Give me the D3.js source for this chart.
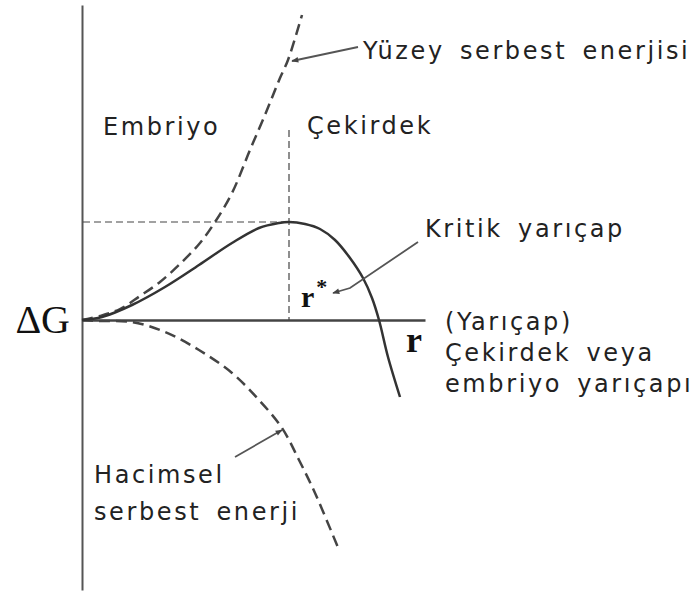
<!DOCTYPE html>
<html>
<head>
<meta charset="utf-8">
<script src="https://cdn.jsdelivr.net/npm/d3@7"></script>
<style>
  html, body { margin: 0; padding: 0; background: #fff; }
  svg { display: block; }
  .lbl { font-family: "DejaVu Sans", Verdana, sans-serif; font-size: 24px; fill: #222; letter-spacing: 2.6px; word-spacing: 5px; }
  .serif { font-family: "Liberation Serif", "Times New Roman", serif; fill: #111; }
</style>
</head>
<body>
<svg id="chart" width="697" height="592"></svg>
<script>
// Nucleation free energy vs. embryo / nucleus radius (arbitrary units)
// Total free energy change ΔG
const totalR = [0, 20, 50, 83, 117, 150, 177, 197, 207, 223, 238, 253, 268, 281, 290, 297, 306, 318];
const totalG = [0, 3, 15, 33, 55, 77, 92, 97, 98, 96, 91, 80, 62, 42, 22, 0, -37, -77];

// Surface free energy contribution (positive, ~r²)
const surfR = [0, 18, 38, 58, 78, 100, 118, 133, 150, 168, 185, 198, 206, 220];
const surfG = [0, 4, 11, 24, 38, 58, 77, 98, 127, 170, 210, 242, 260, 305];

// Volume free energy contribution (negative, ~r³)
const volR = [0, 18, 50, 83, 117, 150, 177, 200, 217, 233, 257];
const volG = [0, -1, -2, -12, -30, -53, -80, -108, -140, -173, -230];

// Critical radius r* and the barrier height at it
const rStar = 207;
const gStar = 98;
const guideTop = 190;

const xDomain = [0, 343];
const yDomain = [-270, 315];

const svg = d3.select("#chart");
const x = d3.scaleLinear().domain(xDomain).range([82, 425]);
const y = d3.scaleLinear().domain(yDomain).range([590, 5]);

const line = d3.line()
  .x(d => x(d[0]))
  .y(d => y(d[1]))
  .curve(d3.curveCatmullRom.alpha(0.5));

const zip = (a, b) => a.map((v, i) => [v, b[i]]);

// Arrowhead marker
svg.append("defs").append("marker")
  .attr("id", "head")
  .attr("viewBox", "0 0 10 10")
  .attr("refX", 9).attr("refY", 5)
  .attr("markerWidth", 9).attr("markerHeight", 7)
  .attr("markerUnits", "userSpaceOnUse")
  .attr("orient", "auto")
  .append("path")
  .attr("d", "M0,1 L10,5 L0,9 Z")
  .attr("fill", "#444");

// Axes: bare lines, no ticks
const yAxis = svg.append("g")
  .attr("transform", `translate(${x(0)},0)`)
  .call(d3.axisLeft(y).tickValues([]).tickSizeOuter(0));
yAxis.select(".domain").attr("stroke", "#555").attr("stroke-width", 2);

const xAxis = svg.append("g")
  .attr("transform", `translate(0,${y(0)})`)
  .call(d3.axisBottom(x).tickValues([]).tickSizeOuter(0));
xAxis.select(".domain").attr("stroke", "#444").attr("stroke-width", 2.5);

// Guide lines through the maximum
svg.append("line")
  .attr("x1", x(1)).attr("x2", x(rStar))
  .attr("y1", y(gStar)).attr("y2", y(gStar))
  .attr("stroke", "#444").attr("stroke-width", 1.2)
  .attr("stroke-dasharray", "7,4");
svg.append("line")
  .attr("x1", x(rStar)).attr("x2", x(rStar))
  .attr("y1", y(guideTop)).attr("y2", y(0))
  .attr("stroke", "#444").attr("stroke-width", 1.2)
  .attr("stroke-dasharray", "7,4");

// Surface energy (dashed)
svg.append("path")
  .datum(zip(surfR, surfG))
  .attr("d", line)
  .attr("fill", "none").attr("stroke", "#444")
  .attr("stroke-width", 2.5).attr("stroke-dasharray", "11,6");

// Volume energy (dashed)
svg.append("path")
  .datum(zip(volR, volG))
  .attr("d", line)
  .attr("fill", "none").attr("stroke", "#444")
  .attr("stroke-width", 2.5).attr("stroke-dasharray", "11,6");

// Total ΔG (solid)
svg.append("path")
  .datum(zip(totalR, totalG))
  .attr("d", line)
  .attr("fill", "none").attr("stroke", "#333")
  .attr("stroke-width", 2.5);

// Leader arrows
const arrow = pts => svg.append("path")
  .attr("d", d3.line().x(d => x(d[0])).y(d => y(d[1]))(pts))
  .attr("fill", "none").attr("stroke", "#555").attr("stroke-width", 1.8)
  .attr("marker-end", "url(#head)");

arrow([[276, 273], [210, 259]]);
arrow([[336, 78], [268, 32], [251, 27]]);
arrow([[153, -137], [200, -110]]);

// Labels
const label = (txt, px, py) => svg.append("text")
  .attr("class", "lbl").attr("x", px).attr("y", py).text(txt);

label("Yüzey serbest enerjisi", 363, 59);
label("Embriyo", 103, 135);
label("Çekirdek", 307, 134);
label("Kritik yarıçap", 425, 237);
label("(Yarıçap)", 445, 330);
label("Çekirdek veya", 445, 361);
label("embriyo yarıçapı", 445, 392);
label("Hacimsel", 94, 483);
label("serbest enerji", 94, 520);

svg.append("text").attr("class", "serif")
  .attr("x", 70).attr("y", 333).attr("text-anchor", "end")
  .attr("font-size", 40).text("ΔG");

const rs = svg.append("text").attr("class", "serif")
  .attr("x", 301).attr("y", 307).attr("font-size", 30).attr("font-weight", "bold");
rs.append("tspan").text("r");
rs.append("tspan").attr("font-size", 22).attr("dy", -13).attr("dx", 2).text("*");

svg.append("text").attr("class", "serif")
  .attr("x", 406).attr("y", 352).attr("font-size", 36).attr("font-weight", "bold")
  .text("r");
</script>
</body>
</html>
